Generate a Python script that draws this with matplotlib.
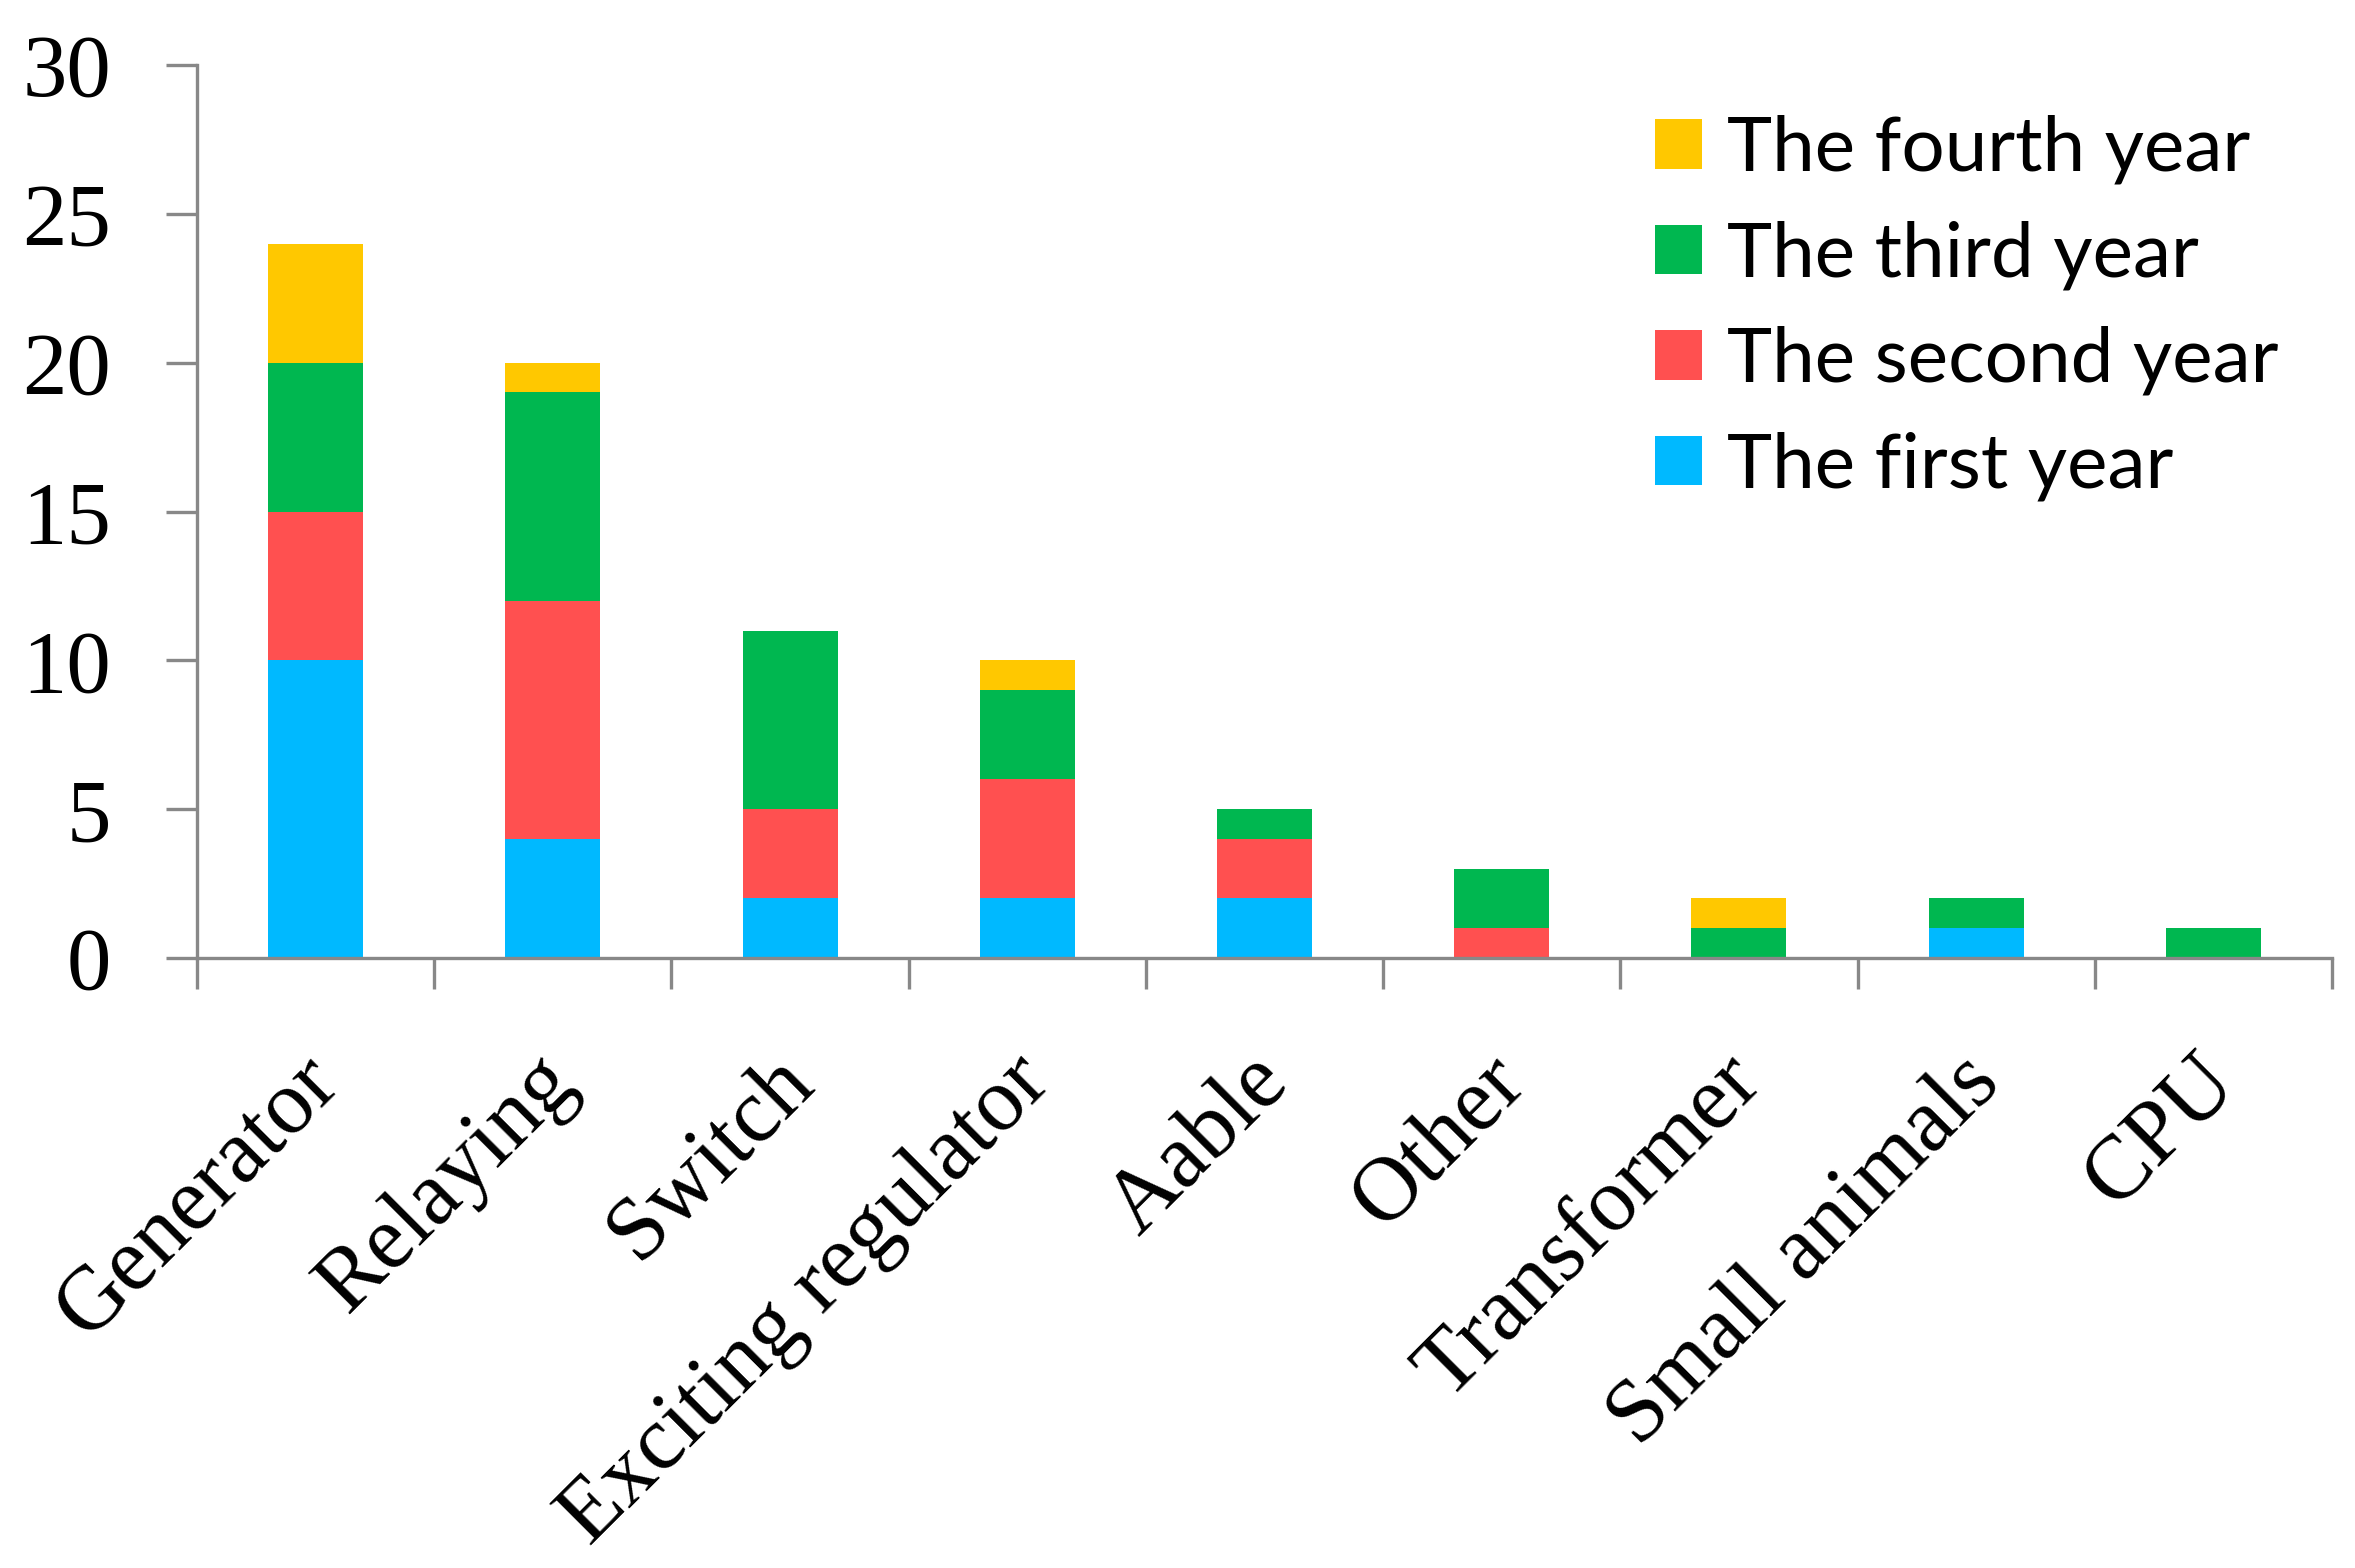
import matplotlib.pyplot as plt
import matplotlib.transforms as mtransforms
import numpy as np

categories = ["Generator", "Relaying", "Switch", "Exciting regulator", "Aable",
              "Other", "Transformer", "Small animals", "CPU"]
first_year = [10, 4, 2, 2, 2, 0, 0, 1, 0]
second_year = [5, 8, 3, 4, 2, 1, 0, 0, 0]
third_year = [5, 7, 6, 3, 1, 2, 1, 1, 1]
fourth_year = [4, 1, 0, 1, 0, 0, 1, 0, 0]

series = [("The first year", first_year, "#00B9FF"),
          ("The second year", second_year, "#FF5050"),
          ("The third year", third_year, "#00B750"),
          ("The fourth year", fourth_year, "#FFC800")]

fig = plt.figure(figsize=(23.55, 15.68), dpi=100)
ax = fig.add_axes([197/2355, 1-958/1568, (2332-197)/2355, (958-65)/1568])

x = np.arange(len(categories))
bottom = np.zeros(len(categories))
handles = []
for name, vals, col in series:
    b = ax.bar(x, vals, 0.4, bottom=bottom, color=col, label=name, linewidth=0)
    handles.append(b)
    bottom += np.array(vals)

ax.set_xlim(-0.5, len(categories) - 0.5)
ax.set_ylim(0, 30)
ax.set_yticks([0, 5, 10, 15, 20, 25, 30])

axcol = "#888888"
for s in ["top", "right"]:
    ax.spines[s].set_visible(False)
for s in ["left", "bottom"]:
    ax.spines[s].set_color(axcol)
    ax.spines[s].set_linewidth(2.4)

serif = "Liberation Serif"
ax.tick_params(axis="y", length=22, width=2.4, color=axcol, pad=40,
               labelsize=64, labelfontfamily=serif)

# boundaries as major ticks, labels on minor ticks at bar centres
ax.set_xticks(np.arange(-0.5, len(categories)), labels=[""] * (len(categories) + 1))
ax.tick_params(axis="x", which="major", length=22, width=2.4, color=axcol)
ax.set_xticks(x, minor=True)
ax.set_xticklabels(categories, minor=True, rotation=45, ha="right", va="center",
                   rotation_mode="anchor", fontsize=65, family=serif)
ax.tick_params(axis="x", which="minor", length=0, pad=80)
offset = mtransforms.ScaledTranslation(0.1, 0, fig.dpi_scale_trans)
for lab in ax.xaxis.get_minorticklabels():
    lab.set_transform(lab.get_transform() + offset)

fig.legend(handles[::-1], [s[0] for s in series][::-1], loc="upper left",
           bbox_to_anchor=(1655/2355, 1-115/1568), frameon=False,
           prop={"family": "Lato", "size": 55},
           handlelength=0.62, handleheight=0.62, handletextpad=0.32,
           labelspacing=0.47, borderpad=0, borderaxespad=0)

fig.savefig("out.png", dpi=100)
